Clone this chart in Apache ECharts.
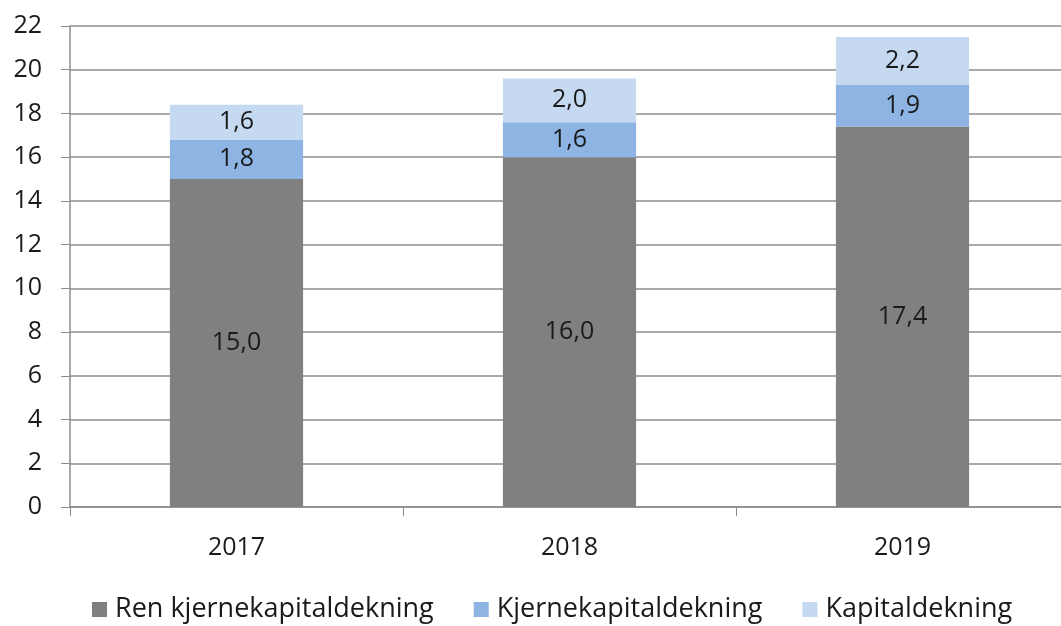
<!DOCTYPE html>
<html>
<head>
<meta charset="utf-8">
<script src="https://cdn.jsdelivr.net/npm/echarts@6/dist/echarts.min.js"></script>
<style>
  html, body { margin: 0; padding: 0; background: #fff; }
  #main { width: 1061px; height: 626px; }
</style>
</head>
<body>
<div id="main"></div>
<script>
// data
const years = ['2017', '2018', '2019']
const renKjerne = [15.0, 16.0, 17.4]
const kjerne = [1.8, 1.6, 1.9]
const kapital = [1.6, 2.0, 2.2]
const seriesNames = ['Ren kjernekapitaldekning', 'Kjernekapitaldekning', 'Kapitaldekning']
const colors = ['#808080', '#8db4e2', '#c5d9f1']

const font = 'Open Sans'
const fmt = p => p.value.toFixed(1).replace('.', ',')

const chart = echarts.init(document.getElementById('main'))

const mkSeries = (name, data, color) => ({
  name: name,
  type: 'bar',
  stack: 'total',
  data: data,
  barWidth: '40%',
  itemStyle: { color: color },
  label: {
    show: true,
    position: 'inside',
    formatter: fmt,
    color: '#1a1a1a',
    fontSize: 25,
    fontFamily: font
  }
})

chart.setOption({
  animation: false,
  grid: { left: 70, width: 999, top: 26, bottom: 119, outerBoundsMode: 'none' },
  legend: {
    bottom: -2,
    left: 87,
    padding: 5,
    itemWidth: 15,
    itemHeight: 15,
    itemGap: 40,
    icon: 'rect',
    textStyle: { fontSize: 27, color: '#1a1a1a', fontFamily: font, padding: [0, 0, 0, 3] }
  },
  xAxis: {
    type: 'category',
    data: years,
    axisLine: { lineStyle: { color: '#8c8c8c', width: 1.5 } },
    axisTick: { show: true, length: 9, lineStyle: { color: '#8c8c8c' } },
    axisLabel: { fontSize: 25, color: '#1a1a1a', margin: 28, fontFamily: font }
  },
  yAxis: {
    type: 'value',
    min: 0,
    max: 22,
    interval: 2,
    axisLine: { show: true, lineStyle: { color: '#8c8c8c', width: 1.5 } },
    axisTick: { show: true, length: 9, lineStyle: { color: '#8c8c8c' } },
    axisLabel: { fontSize: 25, color: '#1a1a1a', margin: 28, fontFamily: font },
    splitLine: { lineStyle: { color: '#8c8c8c', width: 1.5 } }
  },
  series: [
    mkSeries(seriesNames[0], renKjerne, colors[0]),
    mkSeries(seriesNames[1], kjerne, colors[1]),
    mkSeries(seriesNames[2], kapital, colors[2])
  ]
})
</script>
</body>
</html>
